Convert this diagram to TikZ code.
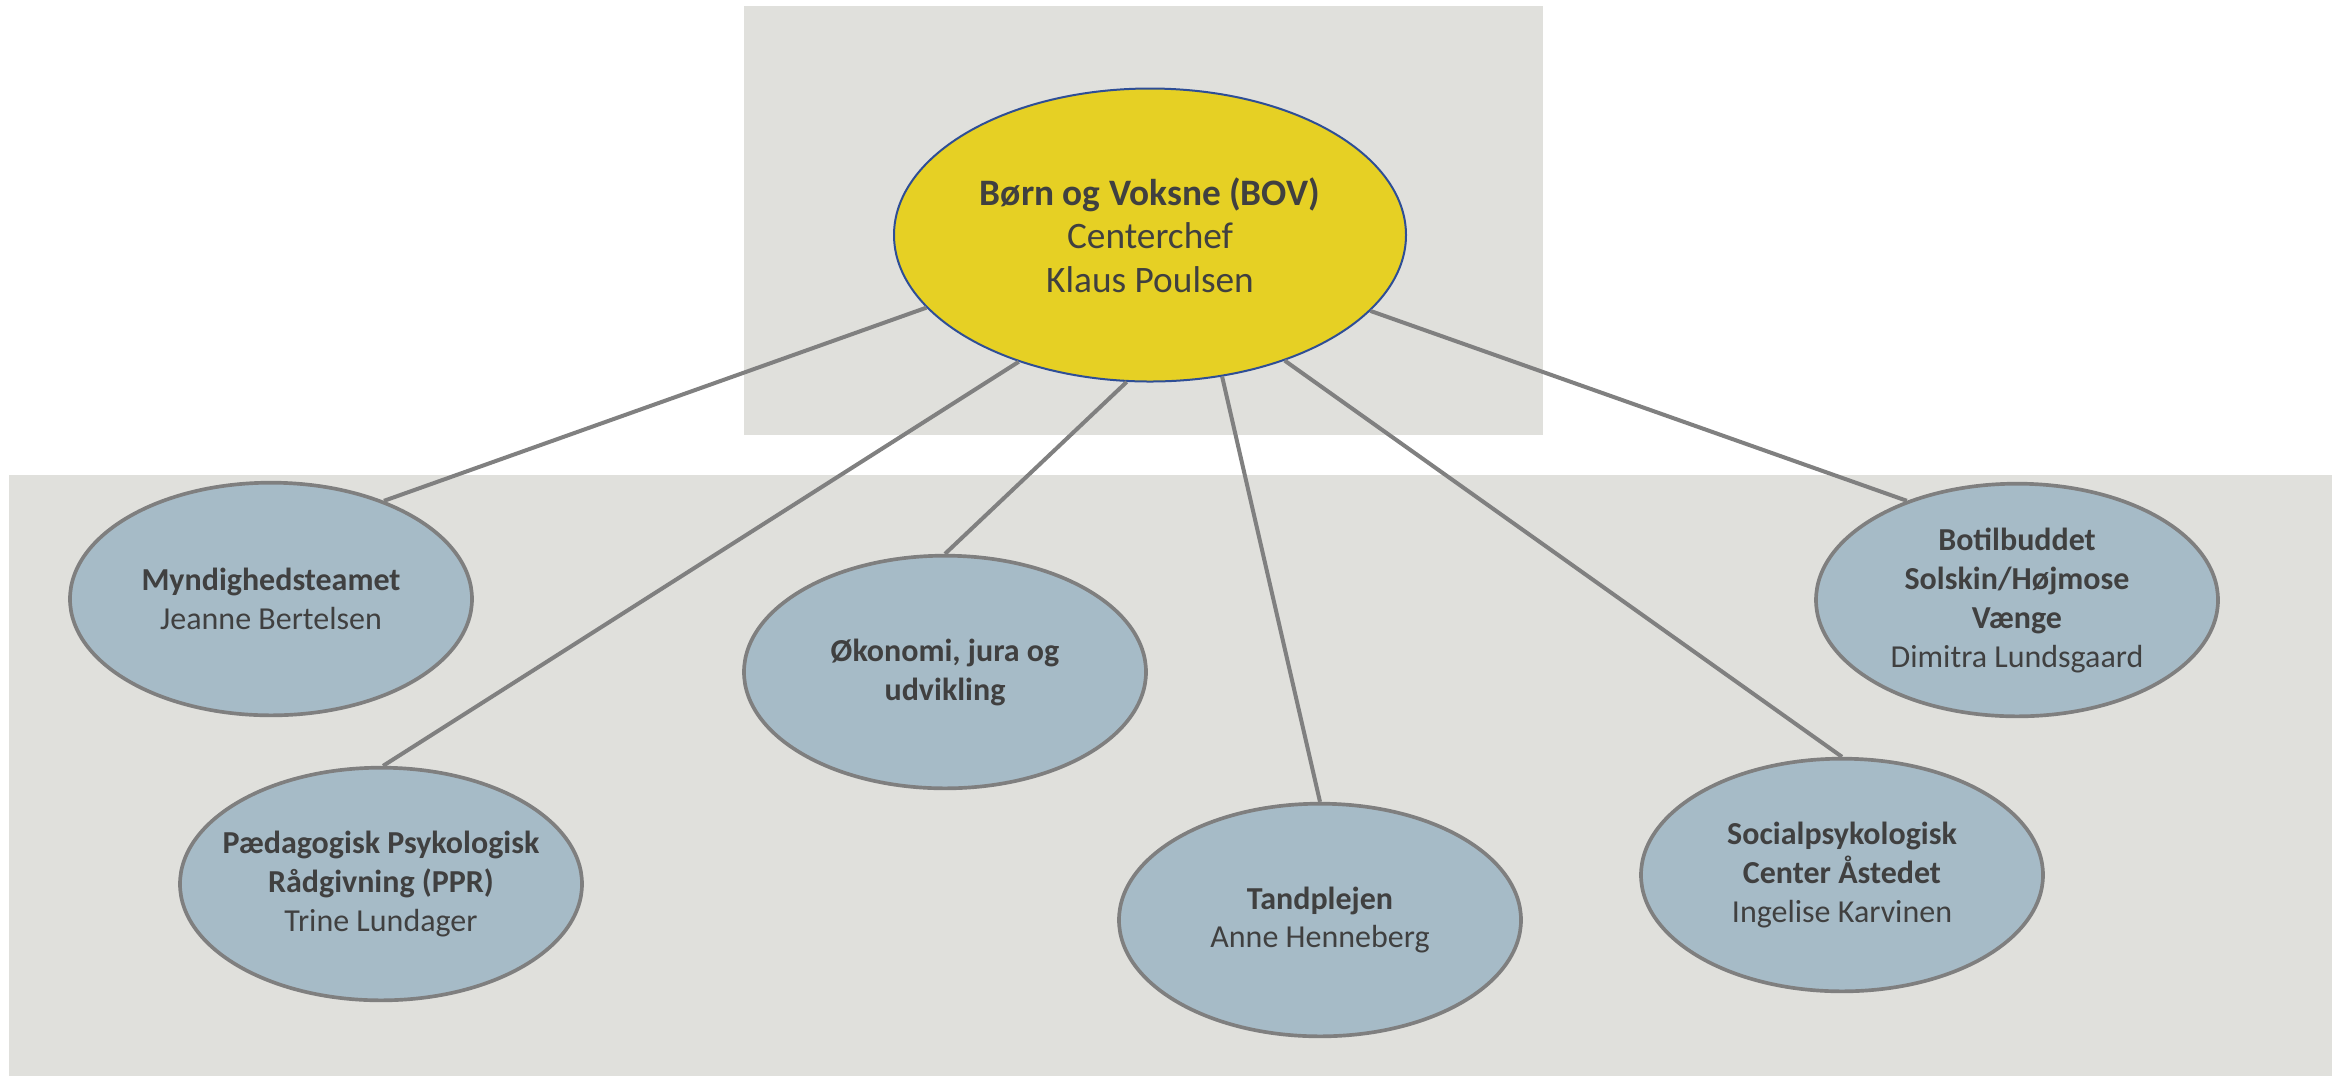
\documentclass[tikz,border=0pt]{standalone}
\usepackage{fontspec}
\setmainfont{Carlito}
\usetikzlibrary{shapes.geometric}
\definecolor{bggray}{RGB}{224,224,220}
\definecolor{bovyellow}{RGB}{230,208,36}
\definecolor{bovblue}{RGB}{46,78,150}
\definecolor{unitfill}{RGB}{166,187,199}
\definecolor{unitborder}{RGB}{127,127,127}
\definecolor{linkgray}{RGB}{128,128,128}
\definecolor{txt}{RGB}{64,64,64}
\tikzset{
  panel/.style={fill=bggray, draw=none},
  bovnode/.style={ellipse, fill=bovyellow, draw=bovblue, line width=0.6pt,
    minimum width=153.6pt, minimum height=87.9pt, inner sep=0pt,
    align=center, text=txt, font=\fontsize{11.2pt}{13pt}\selectfont},
  unit/.style={ellipse, fill=unitfill, draw=unitborder, line width=1.1pt,
    minimum width=120.6pt, minimum height=69.8pt, inner sep=0pt,
    align=center, text=txt, font=\fontsize{9.6pt}{11.7pt}\selectfont},
  link/.style={draw=linkgray, line width=1.2pt}
}
\begin{document}
\begin{tikzpicture}[x=0.3pt,y=-0.3pt]
\useasboundingbox (0,0) rectangle (2344,1076);
\fill[white] (0,0) rectangle (2344,1076);
\path[panel] (744,6) rectangle (1543,435);
\path[panel] (9,475) rectangle (2332,1076);

\node[bovnode] (bov) at (1150,235) {\textbf{Børn og Voksne (BOV)}\\Centerchef\\Klaus Poulsen};

\node[unit] (myn) at (271,599) {\textbf{Myndighedsteamet}\\Jeanne Bertelsen};
\node[unit, inner xsep=-5pt] (ppr) at (381,884) {\textbf{Pædagogisk Psykologisk}\\\textbf{Rådgivning (PPR)}\\Trine Lundager};
\node[unit] (oek) at (945,672) {\textbf{Økonomi, jura og}\\\textbf{udvikling}};
\node[unit] (tand) at (1320,920) {\textbf{Tandplejen}\\Anne Henneberg};
\node[unit] (soc) at (1842,875) {\textbf{Socialpsykologisk}\\\textbf{Center Åstedet}\\Ingelise Karvinen};
\node[unit] (bot) at (2017,600) {\textbf{Botilbuddet}\\\textbf{Solskin/Højmose}\\\textbf{Vænge}\\Dimitra Lundsgaard};

\draw[link] (bov.198.9) -- (myn.41.7);
\draw[link] (bov.224.8) -- (ppr.89);
\draw[link] (bov.261) -- (oek.90);
\draw[link] (bov.297.5) -- (tand.90);
\draw[link] (bov.317.8) -- (soc.90);
\draw[link] (bov.341.1) -- (bot.138.3);
\end{tikzpicture}
\end{document}
